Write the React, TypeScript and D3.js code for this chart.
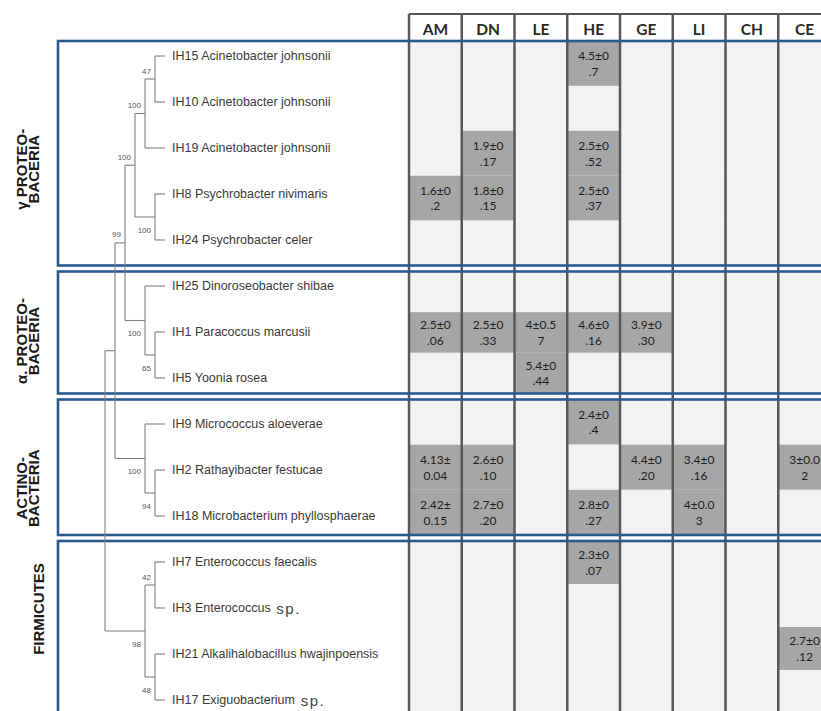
import React from 'react';
import * as d3 from 'd3';

// ---------------- data ----------------
const COLUMNS = ['AM', 'DN', 'LE', 'HE', 'GE', 'LI', 'CH', 'CE'];

const LEAVES = [
  { id: 'IH15', name: 'Acinetobacter johnsonii' },
  { id: 'IH10', name: 'Acinetobacter johnsonii' },
  { id: 'IH19', name: 'Acinetobacter johnsonii' },
  { id: 'IH8', name: 'Psychrobacter nivimaris' },
  { id: 'IH24', name: 'Psychrobacter celer' },
  { id: 'IH25', name: 'Dinoroseobacter shibae' },
  { id: 'IH1', name: 'Paracoccus marcusii' },
  { id: 'IH5', name: 'Yoonia rosea' },
  { id: 'IH9', name: 'Micrococcus aloeverae' },
  { id: 'IH2', name: 'Rathayibacter festucae' },
  { id: 'IH18', name: 'Microbacterium phyllosphaerae' },
  { id: 'IH7', name: 'Enterococcus faecalis' },
  { id: 'IH3', name: 'Enterococcus', sp: 'sp.' },
  { id: 'IH21', name: 'Alkalihalobacillus hwajinpoensis' },
  { id: 'IH17', name: 'Exiguobacterium', sp: 'sp.' },
];

const GROUPS = [
  { label: ['γ PROTEO-', 'BACERIA'], members: ['IH15', 'IH10', 'IH19', 'IH8', 'IH24'] },
  { label: ['α. PROTEO-', 'BACERIA'], members: ['IH25', 'IH1', 'IH5'] },
  { label: ['ACTINO-', 'BACTERIA'], members: ['IH9', 'IH2', 'IH18'] },
  { label: ['FIRMICUTES'], members: ['IH7', 'IH3', 'IH21', 'IH17'] },
];

// measured activity values (mean±sd) per strain and medium
const VALUES = [
  { strain: 'IH15', col: 'HE', value: '4.5±0.7' },
  { strain: 'IH19', col: 'DN', value: '1.9±0.17' },
  { strain: 'IH19', col: 'HE', value: '2.5±0.52' },
  { strain: 'IH8', col: 'AM', value: '1.6±0.2' },
  { strain: 'IH8', col: 'DN', value: '1.8±0.15' },
  { strain: 'IH8', col: 'HE', value: '2.5±0.37' },
  { strain: 'IH1', col: 'AM', value: '2.5±0.06' },
  { strain: 'IH1', col: 'DN', value: '2.5±0.33' },
  { strain: 'IH1', col: 'LE', value: '4±0.57' },
  { strain: 'IH1', col: 'HE', value: '4.6±0.16' },
  { strain: 'IH1', col: 'GE', value: '3.9±0.30' },
  { strain: 'IH5', col: 'LE', value: '5.4±0.44' },
  { strain: 'IH9', col: 'HE', value: '2.4±0.4' },
  { strain: 'IH2', col: 'AM', value: '4.13±0.04' },
  { strain: 'IH2', col: 'DN', value: '2.6±0.10' },
  { strain: 'IH2', col: 'GE', value: '4.4±0.20' },
  { strain: 'IH2', col: 'LI', value: '3.4±0.16' },
  { strain: 'IH2', col: 'CE', value: '3±0.02' },
  { strain: 'IH18', col: 'AM', value: '2.42±0.15' },
  { strain: 'IH18', col: 'DN', value: '2.7±0.20' },
  { strain: 'IH18', col: 'HE', value: '2.8±0.27' },
  { strain: 'IH18', col: 'LI', value: '4±0.03' },
  { strain: 'IH7', col: 'HE', value: '2.3±0.07' },
  { strain: 'IH21', col: 'CE', value: '2.7±0.12' },
];

// phylogeny with bootstrap support
const TREE = {
  children: [
    {
      children: [
        {
          bs: 99,
          children: [
            {
              bs: 100,
              children: [
                {
                  bs: 100,
                  children: [
                    { bs: 47, children: [{ id: 'IH15' }, { id: 'IH10' }] },
                    { id: 'IH19' },
                  ],
                },
                { bs: 100, children: [{ id: 'IH8' }, { id: 'IH24' }] },
              ],
            },
            {
              bs: 100,
              children: [{ id: 'IH25' }, { bs: 65, children: [{ id: 'IH1' }, { id: 'IH5' }] }],
            },
          ],
        },
        {
          bs: 100,
          children: [{ id: 'IH9' }, { bs: 94, children: [{ id: 'IH2' }, { id: 'IH18' }] }],
        },
      ],
    },
    {
      bs: 98,
      children: [
        { bs: 42, children: [{ id: 'IH7' }, { id: 'IH3' }] },
        { bs: 48, children: [{ id: 'IH21' }, { id: 'IH17' }] },
      ],
    },
  ],
};

// ---------------- layout ----------------
const W = 821;
const H = 711;
const BLUE = '#2a5a92';
const TREE_STROKE = '#808080';
const HEADER_TOP = 14;
const HEADER_BOTTOM = 41;
const BOX_LEFT = 58;
const SEP_DY = [5.5, -4.5, -1];
const GROUP_LABEL_DY = [16, 8.5, 21, -18];

function wrap(v: string, n: number) {
  return v.length > n ? [v.slice(0, n), v.slice(n)] : [v];
}

export default function App() {
  const leafIds = LEAVES.map((d) => d.id);
  const y = d3.scalePoint<string>().domain(leafIds).range([56, 700]);
  const x = d3.scaleLinear().domain([0, 6]).range([165, 105]);
  const colX = d3
    .scaleBand<string>()
    .domain(COLUMNS)
    .range([409, 409 + 52.75 * COLUMNS.length])
    .paddingInner(0)
    .paddingOuter(0);

  const root: any = d3.hierarchy<any>(TREE, (d: any) => d.children);
  root.eachAfter((n: any) => {
    n.px = x(n.height);
    n.py = n.children
      ? (n.children[0].py + n.children[n.children.length - 1].py) / 2
      : (y(n.data.id) as number);
  });
  const nodes: any[] = root.descendants();
  const internal = nodes.filter((n) => n.children);

  // separators between groups
  const seps = GROUPS.slice(1).map((g, k) => {
    const prev = GROUPS[k];
    return (
      ((y(prev.members[prev.members.length - 1]) as number) + (y(g.members[0]) as number)) / 2 +
      SEP_DY[k]
    );
  });

  const boxes = GROUPS.map((g, k) => {
    const l = y(g.members[g.members.length - 1]) as number;
    const top = k === 0 ? HEADER_BOTTOM : seps[k - 1] + 3;
    const bottom = k === GROUPS.length - 1 ? l + 13 : seps[k] - 3;
    const rowY = d3
      .scaleBand<string>()
      .domain(g.members)
      .range([top, bottom])
      .paddingInner(0);
    return { g, k, top, bottom, rowY };
  });

  const valueMap = new Map(VALUES.map((v) => [v.strain + '|' + v.col, v.value]));
  const gridRight = (colX(COLUMNS[COLUMNS.length - 1]) as number) + colX.bandwidth();

  return (
    <svg
      width={W}
      height={H}
      style={{ position: 'absolute', left: 0, top: 0, background: '#fff' }}
      fontFamily="'Liberation Sans', Arial, sans-serif"
    >
      <rect x={0} y={0} width={W} height={H} fill="#fff" />

      {/* header */}
      {COLUMNS.map((c) => (
        <g key={'h' + c}>
          <rect
            x={colX(c)}
            y={HEADER_TOP}
            width={colX.bandwidth()}
            height={HEADER_BOTTOM - HEADER_TOP}
            fill="#fff"
          />
          <text
            x={(colX(c) as number) + colX.bandwidth() / 2}
            y={(HEADER_TOP + HEADER_BOTTOM) / 2 + 1}
            textAnchor="middle"
            dominantBaseline="central"
            fontFamily="Lato, 'Open Sans', sans-serif"
            fontWeight={700}
            fontSize={15.5}
            fill="#2a2a2a"
          >
            {c}
          </text>
        </g>
      ))}
      <line x1={409} x2={gridRight} y1={HEADER_TOP} y2={HEADER_TOP} stroke="#555" strokeWidth={2} />

      {/* grid cells */}
      {boxes.map((b) =>
        b.g.members.map((s) =>
          COLUMNS.map((c) => {
            const v = valueMap.get(s + '|' + c);
            const cx = colX(c) as number;
            const cy = b.rowY(s) as number;
            const bh = b.rowY.bandwidth();
            return (
              <g key={s + c}>
                <rect x={cx} y={cy} width={colX.bandwidth()} height={bh} fill={v ? '#a6a6a6' : '#f2f2f2'} />
                {v &&
                  wrap(v, 5).map((t, i, arr) => (
                    <text
                      key={i}
                      x={cx + colX.bandwidth() / 2}
                      y={cy + bh / 2 + (i - (arr.length - 1) / 2) * 15.5}
                      textAnchor="middle"
                      dominantBaseline="central"
                      fontFamily="Lato, 'Open Sans', sans-serif"
                      fontSize={12}
                      fill="#1e1e1e"
                    >
                      {t}
                    </text>
                  ))}
              </g>
            );
          })
        )
      )}

      {/* column lines */}
      {[...COLUMNS.map((c) => colX(c) as number), gridRight].map((xx, i) => (
        <line
          key={'v' + i}
          x1={xx}
          x2={xx}
          y1={HEADER_TOP}
          y2={H + 20}
          stroke="#585858"
          strokeWidth={2.5}
        />
      ))}

      {/* group boxes */}
      {boxes.map((b) => (
        <rect
          key={'box' + b.k}
          x={BOX_LEFT}
          y={b.top}
          width={900}
          height={b.bottom - b.top}
          fill="none"
          stroke={BLUE}
          strokeWidth={2.6}
        />
      ))}

      {/* group labels */}
      {boxes.map((b) => {
        const cy = (b.top + b.bottom) / 2 + GROUP_LABEL_DY[b.k];
        const xs = b.g.label.length === 2 ? [21, 33.5] : [38];
        return b.g.label.map((t, i) => (
          <text
            key={'gl' + b.k + i}
            transform={`translate(${xs[i]},${cy}) rotate(-90)`}
            textAnchor="middle"
            dominantBaseline="central"
            fontWeight={700}
            fontSize={15}
            fill="#1a1a1a"
          >
            {t}
          </text>
        ));
      })}

      {/* tree */}
      <g stroke={TREE_STROKE} strokeWidth={1.1} fill="none">
        {internal.map((n, i) => (
          <line
            key={'tv' + i}
            x1={n.px}
            x2={n.px}
            y1={n.children[0].py}
            y2={n.children[n.children.length - 1].py}
          />
        ))}
        {nodes
          .filter((n) => n.parent)
          .map((n, i) => (
            <line key={'th' + i} x1={n.parent.px} x2={n.px} y1={n.py} y2={n.py} />
          ))}
      </g>

      {/* bootstrap values */}
      {internal
        .filter((n) => n.data.bs != null && n.parent)
        .map((n, i) => {
          const first = n.parent.children[0] === n;
          return (
            <text
              key={'bs' + i}
              x={n.px - 4}
              y={n.py + (first ? -8 : 13)}
              textAnchor="end"
              dominantBaseline="central"
              fontSize={8}
              fill="#555"
            >
              {n.data.bs}
            </text>
          );
        })}

      {/* leaf labels */}
      {LEAVES.map((l) => (
        <text
          key={'ll' + l.id}
          x={x(0) + 7}
          y={y(l.id)}
          dominantBaseline="central"
          fontSize={12.5}
          fill="#3a3a3a"
        >
          {l.id + ' ' + l.name}
          {l.sp && (
            <tspan fontSize={15} letterSpacing={1.5} fill="#444">
              {' ' + l.sp}
            </tspan>
          )}
        </text>
      ))}
    </svg>
  );
}
